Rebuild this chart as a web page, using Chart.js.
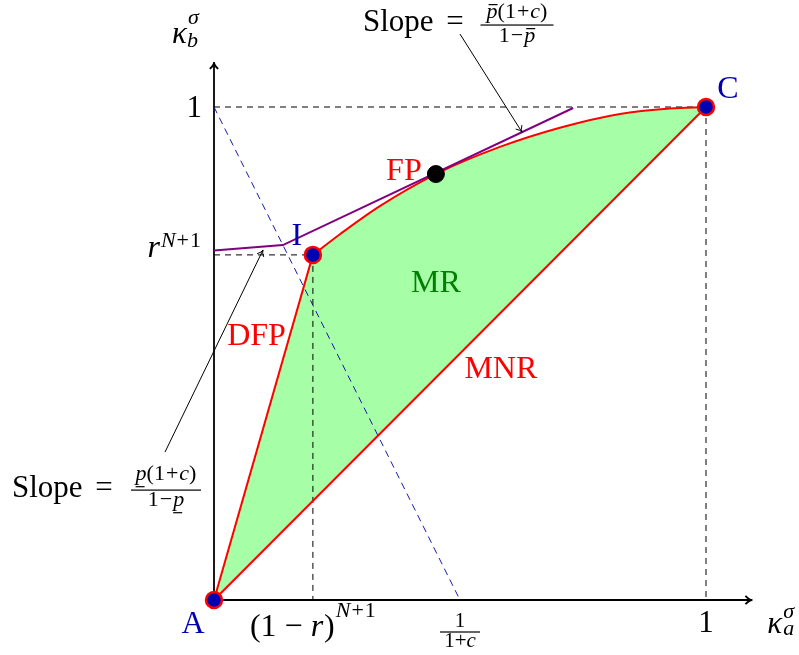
<!DOCTYPE html>
<html>
<head>
<meta charset="utf-8">
<script src="https://cdn.jsdelivr.net/npm/chart.js@4.4.0/dist/chart.umd.min.js"></script>
<style>
html,body{margin:0;padding:0;background:#fff;}
#wrap{width:799px;height:655px;}
</style>
</head>
<body>
<div id="wrap"><canvas id="c" width="799" height="655"></canvas></div>
<script>
// ---------- data (unit square: A=(0,0), C=(1,1)) ----------
const pointA = [0, 0];
const pointI = [0.201, 0.700];
const pointC = [1, 1];
const pointFP = [0.451, 0.864];
// MR frontier from I to C (concave curve through FP)
const curveX = [0.201, 0.256, 0.337, 0.451, 0.581, 0.703, 0.825, 0.927, 1.0];
const curveY = [0.700, 0.742, 0.799, 0.864, 0.919, 0.958, 0.986, 0.997, 1.0];
// purple supporting line (kink, then tangent through FP)
const tangentX = [0, 0.140, 0.730];
const tangentY = [0.709, 0.720, 0.998];
// blue dashed line from (0,1) to (1/(1+c), 0)
const costLineX = [0, 0.5];
const costLineY = [1, 0];
// tick values
const xTickValues = [0.201, 0.5, 1];
const yTickValues = [0.700, 1];
const xAxisMax = 1.094;
const yAxisMax = 1.091;

const pts = (X, Y) => X.map((x, i) => ({x: x, y: Y[i]}));
const RED = '#ff0000', GREEN_FILL = '#a6ffa6', BLUE = '#0000b3', PURPLE = '#800080';

const fillX = [pointA[0], pointI[0]].concat(curveX.slice(1));
const fillY = [pointA[1], pointI[1]].concat(curveY.slice(1));

const dashedBlack = {borderColor: '#000', borderWidth: 1, borderDash: [6, 5], pointRadius: 0, showLine: true, fill: false, order: 8};

const R = s => s + 'px "Liberation Serif"';
const IT = s => 'italic ' + s + 'px "Liberation Serif"';

function drawRuns(ctx, runs, x, y, align, color) {
  let w = 0;
  runs.forEach(r => { ctx.font = r.f; r.w = ctx.measureText(r.t).width + (r.pad || 0); w += r.w; });
  let sx = align === 'center' ? x - w / 2 : (align === 'right' ? x - w : x);
  runs.forEach(r => {
    ctx.font = r.f;
    ctx.fillStyle = r.c || color || '#000';
    const yy = y + (r.dy || 0);
    ctx.fillText(r.t, sx + (r.pad || 0) / 2, yy);
    if (r.over) { ctx.fillRect(sx + 2, yy + r.over, r.w - 2, 1.2); }
    if (r.under) { ctx.fillRect(sx, yy + r.under, r.w - 2, 1.2); }
    sx += r.w;
  });
  return w;
}

function arrowHead(ctx, x, y, ang, len, spread) {
  ctx.beginPath();
  ctx.moveTo(x - len * Math.cos(ang - spread), y - len * Math.sin(ang - spread));
  ctx.quadraticCurveTo(x - len * 0.35 * Math.cos(ang), y - len * 0.35 * Math.sin(ang), x, y);
  ctx.quadraticCurveTo(x - len * 0.35 * Math.cos(ang), y - len * 0.35 * Math.sin(ang),
                       x - len * Math.cos(ang + spread), y - len * Math.sin(ang + spread));
  ctx.stroke();
}

function arrow(ctx, x1, y1, x2, y2, w, len) {
  ctx.lineWidth = w;
  ctx.beginPath(); ctx.moveTo(x1, y1); ctx.lineTo(x2, y2); ctx.stroke();
  arrowHead(ctx, x2, y2, Math.atan2(y2 - y1, x2 - x1), len, 0.55);
}

function fraction(ctx, cx, barY, num, den, numBase, denBase, barW) {
  ctx.fillStyle = '#000';
  const wn = drawRuns(ctx, num, cx, barY - numBase, 'center');
  const wd = drawRuns(ctx, den, cx, barY + denBase, 'center');
  const bw = barW || Math.max(wn, wd) + 4;
  ctx.fillStyle = '#000';
  ctx.fillRect(cx - bw / 2, barY - 0.6, bw, 1.2);
}

const overlay = {
  id: 'overlay',
  beforeDatasetsDraw(chart) {
    const ctx = chart.ctx, xs = chart.scales.x, ys = chart.scales.y;
    const px = v => xs.getPixelForValue(v), py = v => ys.getPixelForValue(v);
    ctx.save();
    ctx.strokeStyle = '#000';
    ctx.lineCap = 'butt';
    arrow(ctx, px(0), py(0), px(xAxisMax), py(0), 1.8, 8);
    arrow(ctx, px(0), py(0), px(0), py(yAxisMax), 1.8, 8);
    ctx.restore();
  },
  afterDatasetsDraw(chart) {
    const ctx = chart.ctx, xs = chart.scales.x, ys = chart.scales.y;
    const px = v => xs.getPixelForValue(v), py = v => ys.getPixelForValue(v);
    const X0 = px(0), Y0 = py(0);
    ctx.save();
    ctx.textBaseline = 'alphabetic';
    ctx.strokeStyle = '#000';

    // annotation arrows
    const topA = [px(0.5), py(1.148)], topB = [px(0.626), py(0.949)];
    arrow(ctx, topA[0], topA[1], topB[0], topB[1], 1, 7);
    const leftA = [px(-0.0996), py(0.300)], leftB = [px(0.0996), py(0.710)];
    arrow(ctx, leftA[0], leftA[1], leftB[0], leftB[1], 1, 7);

    // axis labels
    let kx = px(0) - 42, kb = py(yAxisMax) - 19;
    ctx.font = IT(31); let kw = ctx.measureText('κ').width;
    drawRuns(ctx, [{t: 'κ', f: IT(31)}], kx, kb, 'left');
    drawRuns(ctx, [{t: 'σ', f: IT(22)}], kx + kw + 1, kb - 19, 'left');
    drawRuns(ctx, [{t: 'b', f: IT(22)}], kx + kw, kb + 4, 'left');
    kx = px(xAxisMax) + 15; kb = Y0 + 33;
    drawRuns(ctx, [{t: 'κ', f: IT(31)}], kx, kb, 'left');
    drawRuns(ctx, [{t: 'σ', f: IT(22)}], kx + kw + 1, kb - 15, 'left');
    drawRuns(ctx, [{t: 'a', f: IT(22)}], kx + kw + 1, kb + 2, 'left');

    // y ticks
    drawRuns(ctx, [{t: '1', f: R(31)}], X0 - 12, py(yTickValues[1]) + 10, 'right');
    drawRuns(ctx, [{t: 'r', f: IT(32), pad: 2}, {t: 'N', f: IT(22), dy: -10}, {t: '+', f: R(22), dy: -10, pad: 2}, {t: '1', f: R(22), dy: -10}],
             X0 - 13, py(yTickValues[0]) + 2, 'right');
    // x ticks
    drawRuns(ctx, [{t: '(1 − ', f: R(32)}, {t: 'r', f: IT(32)}, {t: ')', f: R(32), pad: 2},
                   {t: 'N', f: IT(22), dy: -19}, {t: '+', f: R(22), dy: -19, pad: 2}, {t: '1', f: R(22), dy: -19}],
             px(xTickValues[0]), Y0 + 36, 'center');
    fraction(ctx, px(xTickValues[1]), Y0 + 32,
             [{t: '1', f: R(21)}], [{t: '1+', f: R(21)}, {t: 'c', f: IT(21)}], 5, 15, 40);
    drawRuns(ctx, [{t: '1', f: R(31)}], px(xTickValues[2]), Y0 + 32, 'center');

    // vertex labels
    drawRuns(ctx, [{t: 'A', f: R(32)}], px(pointA[0]) - 21, py(pointA[1]) + 33, 'center', BLUE);
    drawRuns(ctx, [{t: 'I', f: R(32)}], px(pointI[0]) - 16, py(pointI[1]) - 10, 'center', BLUE);
    drawRuns(ctx, [{t: 'C', f: R(32)}], px(pointC[0]) + 22, py(pointC[1]) - 9, 'center', BLUE);
    drawRuns(ctx, [{t: 'FP', f: R(32)}], px(pointFP[0]) - 32, py(pointFP[1]) + 6, 'center', RED);
    drawRuns(ctx, [{t: 'MR', f: R(32)}], px(0.451), py(0.625), 'center', '#008000');
    drawRuns(ctx, [{t: 'MNR', f: R(32)}], px(0.583), py(0.450), 'center', RED);
    drawRuns(ctx, [{t: 'DFP', f: R(32)}], px(0.0864), py(0.517), 'center', RED);

    // top slope label (anchored at its arrow start)
    let ax = topA[0], ay = topA[1];
    drawRuns(ctx, [{t: 'Slope', f: R(31)}], ax - 97, ay - 3, 'left');
    drawRuns(ctx, [{t: '=', f: R(31)}], ax - 5, ay - 3, 'center');
    fraction(ctx, ax + 57, ay - 9,
             [{t: 'p', f: IT(22), over: -14}, {t: '(1', f: R(22)}, {t: '+', f: R(22), pad: 2}, {t: 'c', f: IT(22)}, {t: ')', f: R(22)}],
             [{t: '1', f: R(22)}, {t: '−', f: R(22), pad: 2}, {t: 'p', f: IT(22), over: -14}], 7, 17, 73);

    // left slope label
    ax = leftA[0]; ay = leftA[1];
    drawRuns(ctx, [{t: 'Slope', f: R(31)}], ax - 153, ay + 45, 'left');
    drawRuns(ctx, [{t: '=', f: R(31)}], ax - 61, ay + 45, 'center');
    fraction(ctx, ax + 1, ay + 38,
             [{t: 'p', f: IT(22), under: 6}, {t: '(1', f: R(22)}, {t: '+', f: R(22), pad: 2}, {t: 'c', f: IT(22)}, {t: ')', f: R(22)}],
             [{t: '1', f: R(22)}, {t: '−', f: R(22), pad: 2}, {t: 'p', f: IT(22), under: 6}], 10, 16, 70);
    ctx.restore();
  }
};

new Chart(document.getElementById('c'), {
  type: 'scatter',
  data: {
    datasets: [
      {label: 'MNR', data: pts([pointA[0], pointC[0]], [pointA[1], pointC[1]]),
       borderColor: RED, borderWidth: 2, pointRadius: 0, showLine: true, fill: false, order: 5},
      {label: 'MR area', data: pts(fillX, fillY), borderColor: 'rgba(0,0,0,0)', borderWidth: 1,
       backgroundColor: GREEN_FILL, pointRadius: 0, showLine: true, fill: {target: 0}, order: 20},
      {label: 'MR frontier', data: pts(curveX, curveY), borderColor: RED, borderWidth: 2,
       backgroundColor: GREEN_FILL, cubicInterpolationMode: 'monotone', pointRadius: 0, showLine: true,
       fill: {target: 0}, order: 4},
      {label: 'DFP', data: pts([pointA[0], pointI[0]], [pointA[1], pointI[1]]),
       borderColor: RED, borderWidth: 2, pointRadius: 0, showLine: true, fill: false, order: 4},
      {label: 'support', data: pts(tangentX, tangentY), borderColor: PURPLE, borderWidth: 2,
       pointRadius: 0, showLine: true, fill: false, order: 3},
      Object.assign({label: 'top', data: pts([0, pointC[0]], [pointC[1], pointC[1]])}, dashedBlack),
      Object.assign({label: 'right', data: pts([pointC[0], pointC[0]], [pointC[1], 0])}, dashedBlack),
      Object.assign({label: 'Ih', data: pts([0, pointI[0]], [pointI[1], pointI[1]])}, dashedBlack),
      Object.assign({label: 'Iv', data: pts([pointI[0], pointI[0]], [pointI[1], 0])}, dashedBlack),
      {label: 'cost', data: pts(costLineX, costLineY), borderColor: '#1a1aa0', borderWidth: 1,
       borderDash: [7, 5], pointRadius: 0, showLine: true, fill: false, order: 8},
      {label: 'vertices', data: pts([pointA[0], pointI[0], pointC[0]], [pointA[1], pointI[1], pointC[1]]),
       showLine: false, pointRadius: 8, pointBackgroundColor: BLUE, pointBorderColor: RED,
       pointBorderWidth: 2.5, order: 1},
      {label: 'FP', data: pts([pointFP[0]], [pointFP[1]]), showLine: false, pointRadius: 8.5,
       pointBackgroundColor: '#000', pointBorderColor: '#000', pointBorderWidth: 1, order: 1}
    ]
  },
  options: {
    responsive: false,
    animation: false,
    devicePixelRatio: 1,
    events: [],
    layout: {padding: 0, autoPadding: false},
    scales: {
      x: {type: 'linear', display: false, min: -214 / 492, max: (799 - 214) / 492},
      y: {type: 'linear', display: false, min: -55 / 493, max: 600 / 493}
    },
    plugins: {
      legend: {display: false},
      tooltip: {enabled: false},
      filler: {drawTime: 'beforeDatasetsDraw', propagate: false}
    }
  },
  plugins: [overlay]
});
</script>
</body>
</html>
